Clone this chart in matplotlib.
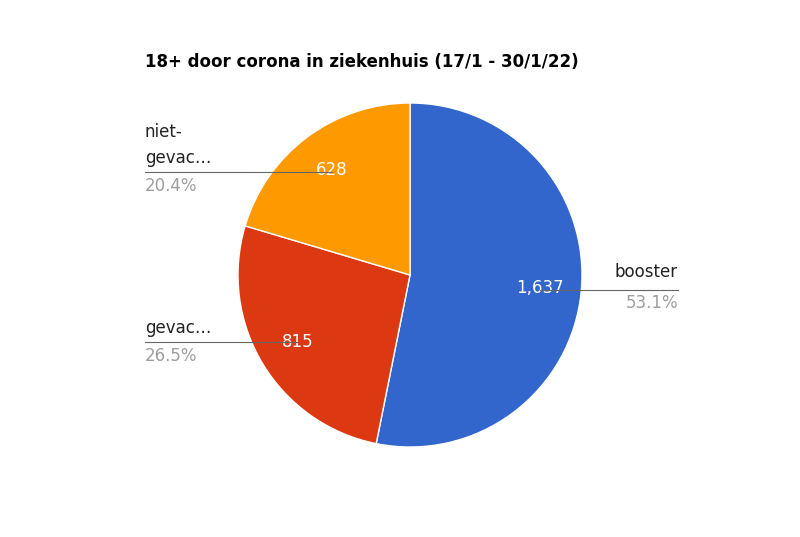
import matplotlib
matplotlib.use("Agg")
import matplotlib.pyplot as plt
import numpy as np

labels = ["booster", "gevac…", "niet-\ngevac…"]
values = [1637, 815, 628]
colors = ["#3366cc", "#dc3912", "#ff9900"]
title = "18+ door corona in ziekenhuis (17/1 - 30/1/22)"

fig = plt.figure(figsize=(8, 5.37), dpi=100)
W, H = 800, 537
R = 172
cx, cy = 410, 275
ax = fig.add_axes([(cx - R) / W, 1 - (cy + R) / H, 2 * R / W, 2 * R / H])
wedges, _ = ax.pie(values, colors=colors, startangle=90, counterclock=False,
                   wedgeprops=dict(edgecolor="white", linewidth=1), radius=1)
ax.set_xlim(-1, 1); ax.set_ylim(-1, 1); ax.set_aspect("equal"); ax.axis("off")

total = sum(values)
grey = "#9e9e9e"
# label anchor positions (pixels): text x, line y, side
ann = [(678, 290, "right"), (145, 342, "left"), (145, 172, "left")]
for w, v, (tx, ly, side) in zip(wedges, values, ann):
    a = np.deg2rad((w.theta1 + w.theta2) / 2)
    x, y = 0.76 * np.cos(a), 0.76 * np.sin(a)
    px = cx + x * R
    ax.text(x, y, f"{v:,}", color="white", fontsize=12, ha="center", va="center")
    fy = 1 - ly / H
    if side == "right":
        fig.add_artist(plt.Line2D([px / W, tx / W], [fy, fy], color="#666666", lw=0.8))
        ha = "right"
    else:
        fig.add_artist(plt.Line2D([tx / W, px / W], [fy, fy], color="#666666", lw=0.8))
        ha = "left"
fig.text(678 / W, 1 - 272 / H, labels[0], ha="right", va="center", fontsize=12, color="#222222")
fig.text(678 / W, 1 - 303 / H, f"{values[0]/total*100:.1f}%", ha="right", va="center", fontsize=12, color=grey)
fig.text(145 / W, 1 - 328 / H, labels[1], ha="left", va="center", fontsize=12, color="#222222")
fig.text(145 / W, 1 - 356 / H, f"{values[1]/total*100:.1f}%", ha="left", va="center", fontsize=12, color=grey)
fig.text(145 / W, 1 - 132 / H, "niet-", ha="left", va="center", fontsize=12, color="#222222")
fig.text(145 / W, 1 - 158 / H, "gevac…", ha="left", va="center", fontsize=12, color="#222222")
fig.text(145 / W, 1 - 186 / H, f"{values[2]/total*100:.1f}%", ha="left", va="center", fontsize=12, color=grey)
fig.text(145 / W, 1 - 62 / H, title, ha="left", va="center", fontsize=12, fontweight="bold", color="#000000")
fig.savefig("out.png", dpi=100)
